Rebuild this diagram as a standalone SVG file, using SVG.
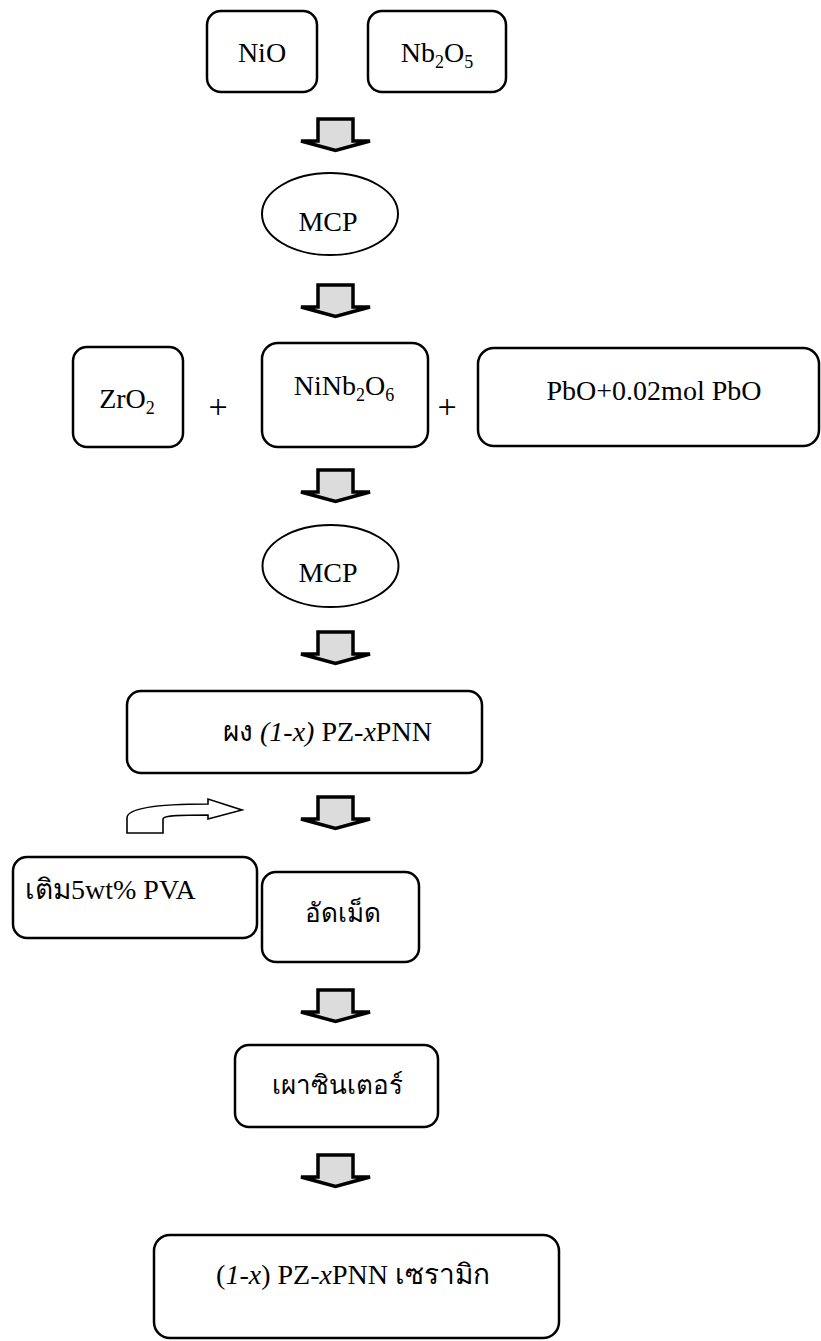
<svg xmlns="http://www.w3.org/2000/svg" width="821" height="1341" viewBox="0 0 821 1341">
<style>
.box{fill:#fff;stroke:#000;stroke-width:2.5}
.ell{fill:#fff;stroke:#000;stroke-width:2}
.t{font-family:"Liberation Serif","Times New Roman",serif;font-size:28px;fill:#000}
.th{font-size:26px}
.m{text-anchor:middle}
.sub{font-size:18px}
.i{font-style:italic}
.pl{font-size:34px}
.blk{fill:#dcdcdc;stroke:#000;stroke-width:3.5;stroke-linejoin:miter}
.curve{fill:#fff;stroke:#000;stroke-width:1.6}
</style>
<defs>
<path id="down" class="blk" d="M318,2 H353 V24 H370 L335.5,33.5 L301,24 H318 Z"/>
</defs>
<rect width="821" height="1341" fill="#fff"/>

<g id="connectors">
<use href="#down" y="117"/>
<use href="#down" y="283"/>
<use href="#down" y="468"/>
<use href="#down" y="630"/>
<use href="#down" y="795"/>
<use href="#down" y="988"/>
<use href="#down" y="1153"/>
<path class="curve" d="M127,833 V818 C127,808 160,804 208,804 V799 L242,810 L208,819 V815 C185,815 163,815 163,819 V833 Z"/>
</g>

<g id="nio">
<rect class="box" x="207" y="11" width="110" height="81" rx="14"/>
<text class="t m" x="262" y="62">NiO</text>
</g>
<g id="nb2o5">
<rect class="box" x="368" y="11" width="138" height="81" rx="14"/>
<text class="t m" x="437" y="62">Nb<tspan class="sub" dy="6">2</tspan><tspan dy="-6">O</tspan><tspan class="sub" dy="6">5</tspan></text>
</g>
<g id="mcp1">
<ellipse class="ell" cx="330" cy="214" rx="68" ry="41"/>
<text class="t m" x="328" y="231">MCP</text>
</g>
<g id="zro2">
<rect class="box" x="73" y="347" width="110" height="100" rx="14"/>
<text class="t m" x="127" y="408">ZrO<tspan class="sub" dy="6">2</tspan></text>
</g>
<g id="plus1"><text class="t m pl" x="218" y="418">+</text></g>
<g id="ninb2o6">
<rect class="box" x="262" y="343" width="166" height="104" rx="16"/>
<text class="t m" x="344" y="395">NiNb<tspan class="sub" dy="6">2</tspan><tspan dy="-6">O</tspan><tspan class="sub" dy="6">6</tspan></text>
</g>
<g id="plus2"><text class="t m pl" x="447" y="418">+</text></g>
<g id="pbo">
<rect class="box" x="478" y="348" width="341" height="98" rx="16"/>
<text class="t m" x="654" y="400">PbO+0.02mol PbO</text>
</g>
<g id="mcp2">
<ellipse class="ell" cx="330.5" cy="566" rx="68" ry="41"/>
<text class="t m" x="328" y="582">MCP</text>
</g>
<g id="powder">
<rect class="box" x="127" y="691" width="355" height="82" rx="14"/>
<text class="t" x="223" y="741">ผง <tspan class="i">(1-x)</tspan> PZ-<tspan class="i">x</tspan>PNN</text>
</g>
<g id="pva">
<rect class="box" x="13" y="857" width="244" height="81" rx="14"/>
<text class="t" x="25" y="899">เติม5wt% PVA</text>
</g>
<g id="press">
<rect class="box" x="262" y="872" width="157" height="90" rx="14"/>
<text class="t m th" x="343" y="922">อัดเม็ด</text>
</g>
<g id="sinter">
<rect class="box" x="235" y="1045" width="203" height="82" rx="14"/>
<text class="t m th" x="337" y="1094">เผาซินเตอร์</text>
</g>
<g id="ceramic">
<rect class="box" x="154" y="1235" width="405" height="103" rx="16"/>
<text class="t m" x="353" y="1284">(<tspan class="i">1-x</tspan>) PZ-<tspan class="i">x</tspan>PNN เซรามิก</text>
</g>
</svg>
